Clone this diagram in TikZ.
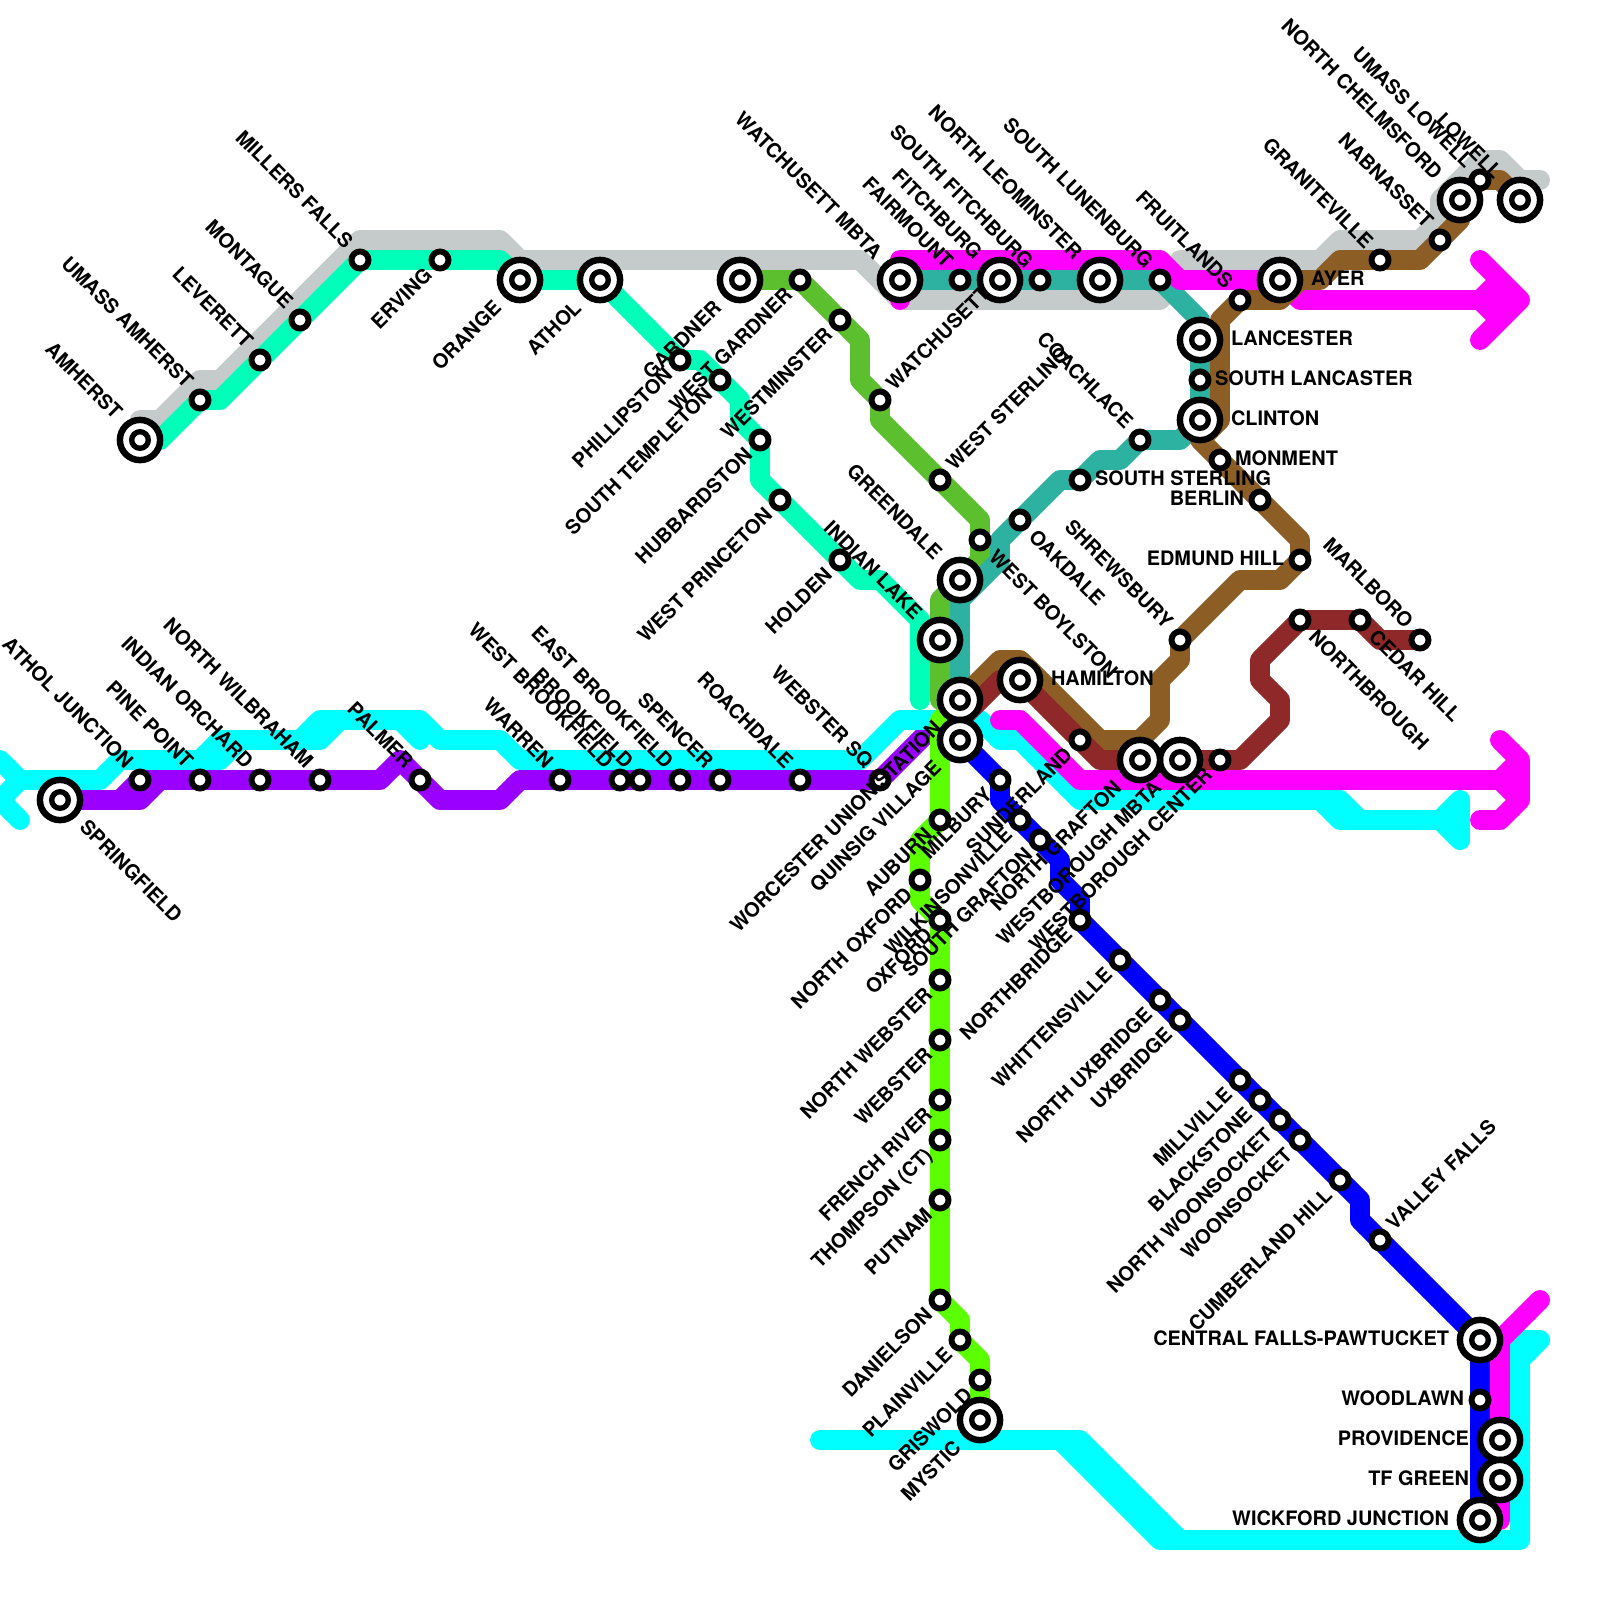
\documentclass[tikz,border=0pt]{standalone}
\usepackage{fontspec}
\setmainfont{TeX Gyre Heros}
\usetikzlibrary{backgrounds}
\definecolor{greyline}{HTML}{C5CBCA}
\definecolor{cyanline}{HTML}{00FFFF}
\definecolor{mintline}{HTML}{00FFB9}
\definecolor{oliveline}{HTML}{5CBF2E}
\definecolor{tealline}{HTML}{2DB1A0}
\definecolor{purpleline}{HTML}{9900FF}
\definecolor{magentaline}{HTML}{FF00FF}
\definecolor{brownline}{HTML}{8C5E25}
\definecolor{redline}{HTML}{8F2828}
\definecolor{blueline}{HTML}{0000FF}
\definecolor{limeline}{HTML}{5CFF00}
\begin{document}
\begin{tikzpicture}[x=5mm, y=-5mm,
  font=\fontsize{14.17}{14.17}\selectfont\bfseries,
  route/.style={line width=14.17pt, line join=round, line cap=round},
  stn/.style={circle, draw=black, fill=white, line width=4.2pt,
              inner sep=0pt, minimum size=12.1pt},
  bigstn/.style={circle, draw=black, fill=white, line width=4.6pt,
              inner sep=0pt, minimum size=28.6pt,
              path picture={\draw[line width=3.8pt] (path picture bounding box.center) circle (5.9pt);}},
  lbl/.style={inner sep=0pt, outer sep=0pt},
  lnw/.style={lbl, shift={(-0.64,-0.66)}, rotate=-45, anchor=mid east},
  lnwb/.style={lbl, shift={(-1.19,-1.11)}, rotate=-45, anchor=mid east},
  lsw/.style={lbl, shift={(-0.46,0.69)}, rotate=45, anchor=mid east},
  lswb/.style={lbl, shift={(-1.01,1.34)}, rotate=45, anchor=mid east},
  lse/.style={lbl, shift={(0.51,0.79)}, rotate=-45, anchor=mid west},
  lseb/.style={lbl, shift={(1.06,1.29)}, rotate=-45, anchor=mid west},
  lne/.style={lbl, shift={(0.6,-0.56)}, rotate=45, anchor=mid west},
  le/.style={lbl, shift={(0.75,0.1)}, anchor=mid west},
  leb/.style={lbl, shift={(1.55,0.1)}, anchor=mid west},
  lw/.style={lbl, shift={(-0.8,0.1)}, anchor=mid east},
  lwb/.style={lbl, shift={(-1.55,0.1)}, anchor=mid east}
]
\useasboundingbox (0,0) rectangle (80,80);
\node[bigstn] (amherst) at (7,22) {};
\node[stn] (umassamherst) at (10,20) {};
\node[stn] (leverett) at (13,18) {};
\node[stn] (montague) at (15,16) {};
\node[stn] (millersfalls) at (18,13) {};
\node[stn] (erving) at (22,13) {};
\node[bigstn] (orange) at (26,14) {};
\node[bigstn] (athol) at (30,14) {};
\node[bigstn] (gardner) at (37,14) {};
\node[stn] (westgardner) at (40,14) {};
\node[stn] (westminster) at (42,16) {};
\node[stn] (watchusett) at (44,20) {};
\node[stn] (weststerling) at (47,24) {};
\node[stn] (westboylston) at (49,27) {};
\node[bigstn] (greendale) at (48,29) {};
\node[stn] (oakdale) at (51,26) {};
\node[stn] (southsterling) at (54,24) {};
\node[stn] (coachlace) at (57,22) {};
\node[bigstn] (clinton) at (60,21) {};
\node[stn] (southlancaster) at (60,19) {};
\node[bigstn] (lancester) at (60,17) {};
\node[stn] (southlunenburg) at (58,14) {};
\node[bigstn] (northleominster) at (55,14) {};
\node[stn] (southfitchburg) at (52,14) {};
\node[bigstn] (fitchburg) at (50,14) {};
\node[stn] (fairmount) at (48,14) {};
\node[bigstn] (watchusettmbta) at (45,14) {};
\node[stn] (fruitlands) at (62,15) {};
\node[bigstn] (ayer) at (64,14) {};
\node[stn] (graniteville) at (69,13) {};
\node[stn] (nabnasset) at (72,12) {};
\node[bigstn] (northchelmsford) at (73,10) {};
\node[stn] (umasslowell) at (74,9) {};
\node[bigstn] (lowell) at (76,10) {};
\node[stn] (monment) at (61,23) {};
\node[stn] (berlin) at (63,25) {};
\node[stn] (edmundhill) at (65,28) {};
\node[stn] (shrewsbury) at (59,32) {};
\node[stn] (marlboro) at (71,32) {};
\node[stn] (cedarhill) at (68,31) {};
\node[stn] (northbrough) at (65,31) {};
\node[stn] (westboroughcenter) at (61,38) {};
\node[bigstn] (westboroughmbta) at (59,38) {};
\node[bigstn] (northgrafton) at (57,38) {};
\node[stn] (sunderland) at (54,37) {};
\node[bigstn] (hamilton) at (51,34) {};
\node[bigstn] (indianlake) at (47,32) {};
\node[stn] (holden) at (42,28) {};
\node[stn] (westprinceton) at (39,25) {};
\node[stn] (hubbardston) at (38,22) {};
\node[stn] (southtempleton) at (36,19) {};
\node[stn] (phillipston) at (34,18) {};
\node[bigstn] (worcester) at (48,35) {};
\node[bigstn] (quinsig) at (48,37) {};
\node[stn] (webstersq) at (44,39) {};
\node[stn] (roachdale) at (40,39) {};
\node[stn] (spencer) at (36,39) {};
\node[stn] (eastbrookfield) at (34,39) {};
\node[stn] (brookfield) at (32,39) {};
\node[stn] (westbrookfield) at (31,39) {};
\node[stn] (warren) at (28,39) {};
\node[stn] (palmer) at (21,39) {};
\node[stn] (northwilbraham) at (16,39) {};
\node[stn] (indianorchard) at (13,39) {};
\node[stn] (pinepoint) at (10,39) {};
\node[stn] (atholjunction) at (7,39) {};
\node[bigstn] (springfield) at (3,40) {};
\node[stn] (milbury) at (50,39) {};
\node[stn] (wilkinsonville) at (51,41) {};
\node[stn] (southgrafton) at (52,42) {};
\node[stn] (northbridge) at (54,46) {};
\node[stn] (whittensville) at (56,48) {};
\node[stn] (northuxbridge) at (58,50) {};
\node[stn] (uxbridge) at (59,51) {};
\node[stn] (millville) at (62,54) {};
\node[stn] (blackstone) at (63,55) {};
\node[stn] (northwoonsocket) at (64,56) {};
\node[stn] (woonsocket) at (65,57) {};
\node[stn] (cumberlandhill) at (67,59) {};
\node[stn] (valleyfalls) at (69,62) {};
\node[bigstn] (centralfalls) at (74,67) {};
\node[stn] (woodlawn) at (74,70) {};
\node[bigstn] (providence) at (75,72) {};
\node[bigstn] (tfgreen) at (75,74) {};
\node[bigstn] (wickford) at (74,76) {};
\node[stn] (auburn) at (47,41) {};
\node[stn] (northoxford) at (46,44) {};
\node[stn] (oxford) at (47,46) {};
\node[stn] (northwebster) at (47,49) {};
\node[stn] (webster) at (47,52) {};
\node[stn] (frenchriver) at (47,55) {};
\node[stn] (thompson) at (47,57) {};
\node[stn] (putnam) at (47,60) {};
\node[stn] (danielson) at (47,65) {};
\node[stn] (plainville) at (48,67) {};
\node[stn] (griswold) at (49,69) {};
\node[bigstn] (mystic) at (49,71) {};
\begin{scope}[on background layer]
\draw[route, greyline] (7,21) -- (8,21) -- (10,19) -- (11,19) -- (18,12) -- (25,12) -- (26,13) -- (43,13) -- (45,15) -- (58,15) -- (59,14) -- (59,13) -- (66,13) -- (67,12) -- (71,12) -- (72,11) -- (72,10) -- (74,8) -- (75,8) -- (76,9) -- (77,9);
\draw[route, purpleline] (springfield.center) -- (6,40) -- (atholjunction.center) -- (pinepoint.center) -- (indianorchard.center) -- (northwilbraham.center) -- (19,39) -- (20,38) -- (palmer.center) -- (22,40) -- (25,40) -- (26,39) -- (warren.center) -- (westbrookfield.center) -- (brookfield.center) -- (eastbrookfield.center) -- (spencer.center) -- (roachdale.center) -- (webstersq.center) -- (worcester.center) (6,40) -- (7,40) -- (8,39);
\draw[route, cyanline] (1,41) -- (0,40) -- (1,39) -- (0,38) (1,39) -- (5,39) -- (6,38) -- (11,38) -- (12,37) (10,38) -- (11,37) -- (16,37) -- (17,36) (15,37) -- (16,36) -- (21,36) -- (22,37) -- (25,37) -- (26,38) -- (43,38) -- (45,36) -- (49,36) -- (50,37) -- (51,37) -- (54,40) -- (67,40) -- (68,41) -- (72,41) -- (73,40) -- (73,42) -- (72,41) (20,36) -- (21,37) (66,40) -- (67,41) -- (68,41);
\draw[route, cyanline] (41,72) -- (54,72) -- (59,77) -- (76,77) -- (76,67) -- (77,67) -- (76,68) (53,72) -- (58,77) -- (59,77);
\draw[route, mintline] (amherst.center) -- (8,22) -- (umassamherst.center) -- (11,20) -- (leverett.center) -- (montague.center) -- (millersfalls.center) -- (erving.center) -- (25,13) -- (orange.center) -- (athol.center) -- (phillipston.center) -- (35,18) -- (southtempleton.center) -- (37,20) -- (37,21) -- (hubbardston.center) -- (38,24) -- (westprinceton.center) -- (holden.center) -- (43,29) -- (44,29) -- (46,31) -- (46,35);
\draw[route, oliveline] (gardner.center) -- (westgardner.center) -- (westminster.center) -- (43,17) -- (43,19) -- (watchusett.center) -- (44,21) -- (weststerling.center) -- (49,26) -- (westboylston.center) -- (49,28) -- (greendale.center) -- (47,30) -- (indianlake.center) -- (47,35);
\draw[route, tealline] (worcester.center) -- (48,30) -- (50,28) -- (50,27) -- (oakdale.center) -- (53,24) -- (southsterling.center) -- (55,23) -- (56,23) -- (coachlace.center) -- (59,22) -- (clinton.center) -- (southlancaster.center) -- (lancester.center) -- (60,16) -- (southlunenburg.center) -- (northleominster.center) -- (southfitchburg.center) -- (fitchburg.center) -- (fairmount.center) -- (watchusettmbta.center);
\draw[route, magentaline] (45,15) -- (45,13) -- (58,13) -- (59,14) -- (ayer.center) -- (65,15) -- (76,15) (74,13) -- (76,15) -- (74,17) -- (75,16) -- (74,15) -- (75,14);
\draw[route, magentaline] (50,36) -- (51,36) -- (54,39) -- (75,39) (75,37) -- (76,38) -- (76,40) -- (75,41) -- (74,41) (76,38) -- (75,39) -- (76,40);
\draw[route, magentaline] (75,76) -- (tfgreen.center) -- (providence.center) -- (75,67) -- (77,65);
\draw[route, brownline] (lowell.center) -- (75,9) -- (umasslowell.center) -- (northchelmsford.center) -- (73,11) -- (nabnasset.center) -- (71,13) -- (graniteville.center) -- (67,13) -- (66,14) -- (65,14) -- (64,15) -- (fruitlands.center) -- (61,16) -- (61,21) -- (60,22) -- (monment.center) -- (berlin.center) -- (65,27) -- (edmundhill.center) -- (64,29) -- (62,29) -- (shrewsbury.center) -- (59,33) -- (58,34) -- (58,36) -- (57,37) -- (55,37) -- (51,33) -- (50,33) -- (worcester.center);
\draw[route, redline] (48,36) -- (50,34) -- (hamilton.center) -- (sunderland.center) -- (55,38) -- (northgrafton.center) -- (westboroughmbta.center) -- (westboroughcenter.center) -- (62,38) -- (64,36) -- (64,35) -- (63,34) -- (63,33) -- (northbrough.center) -- (cedarhill.center) -- (69,32) -- (marlboro.center);
\draw[route, blueline] (quinsig.center) -- (milbury.center) -- (50,40) -- (wilkinsonville.center) -- (southgrafton.center) -- (53,43) -- (53,44) -- (54,45) -- (northbridge.center) -- (whittensville.center) -- (northuxbridge.center) -- (uxbridge.center) -- (millville.center) -- (blackstone.center) -- (northwoonsocket.center) -- (woonsocket.center) -- (cumberlandhill.center) -- (68,60) -- (68,61) -- (valleyfalls.center) -- (centralfalls.center) -- (woodlawn.center) -- (wickford.center);
\draw[route, limeline] (worcester.center) -- (47,36) -- (auburn.center) -- (46,42) -- (northoxford.center) -- (46,45) -- (oxford.center) -- (northwebster.center) -- (webster.center) -- (frenchriver.center) -- (thompson.center) -- (putnam.center) -- (danielson.center) -- (48,66) -- (plainville.center) -- (49,68) -- (griswold.center) -- (mystic.center);
\end{scope}
\node[lnwb] (tamherst) at (amherst) {AMHERST};
\node[lnw] (tumassamherst) at (umassamherst) {UMASS AMHERST};
\node[lnw] (tleverett) at (leverett) {LEVERETT};
\node[lnw] (tmontague) at (montague) {MONTAGUE};
\node[lnw] (tmillersfalls) at (millersfalls) {MILLERS FALLS};
\node[lnw] (tatholjunction) at (atholjunction) {ATHOL JUNCTION};
\node[lnw] (tpinepoint) at (pinepoint) {PINE POINT};
\node[lnw] (tindianorchard) at (indianorchard) {INDIAN ORCHARD};
\node[lnw] (tnorthwilbraham) at (northwilbraham) {NORTH WILBRAHAM};
\node[lnw] (tpalmer) at (palmer) {PALMER};
\node[lnw] (twarren) at (warren) {WARREN};
\node[lnw] (twestbrookfield) at (westbrookfield) {WEST BROOKFIELD};
\node[lnw] (tbrookfield) at (brookfield) {BROOKFIELD};
\node[lnw] (teastbrookfield) at (eastbrookfield) {EAST BROOKFIELD};
\node[lnw] (tspencer) at (spencer) {SPENCER};
\node[lnw] (troachdale) at (roachdale) {ROACHDALE};
\node[lnw] (twebstersq) at (webstersq) {WEBSTER SQ};
\node[lnwb] (tindianlake) at (indianlake) {INDIAN LAKE};
\node[lnwb] (tgreendale) at (greendale) {GREENDALE};
\node[lnwb] (twatchusettmbta) at (watchusettmbta) {WATCHUSETT MBTA};
\node[lnw] (tfairmount) at (fairmount) {FAIRMOUNT};
\node[lnwb] (tfitchburg) at (fitchburg) {FITCHBURG};
\node[lnw] (tsouthfitchburg) at (southfitchburg) {SOUTH FITCHBURG};
\node[lnwb] (tnorthleominster) at (northleominster) {NORTH LEOMINSTER};
\node[lnw] (tsouthlunenburg) at (southlunenburg) {SOUTH LUNENBURG};
\node[lnw] (tfruitlands) at (fruitlands) {FRUITLANDS};
\node[lnw] (tcoachlace) at (coachlace) {COACHLACE};
\node[lnw] (tshrewsbury) at (shrewsbury) {SHREWSBURY};
\node[lnw] (tgraniteville) at (graniteville) {GRANITEVILLE};
\node[lnw] (tnabnasset) at (nabnasset) {NABNASSET};
\node[lnwb] (tnorthchelmsford) at (northchelmsford) {NORTH CHELMSFORD};
\node[lnw] (tumasslowell) at (umasslowell) {UMASS LOWELL};
\node[lnwb] (tlowell) at (lowell) {LOWELL};
\node[lnw] (tmarlboro) at (marlboro) {MARLBORO};
\node[lsw] (terving) at (erving) {ERVING};
\node[lswb] (torange) at (orange) {ORANGE};
\node[lswb] (tathol) at (athol) {ATHOL};
\node[lswb] (tgardner) at (gardner) {GARDNER};
\node[lsw] (twestgardner) at (westgardner) {WEST GARDNER};
\node[lsw] (twestminster) at (westminster) {WESTMINSTER};
\node[lsw] (tphillipston) at (phillipston) {PHILLIPSTON};
\node[lsw] (tsouthtempleton) at (southtempleton) {SOUTH TEMPLETON};
\node[lsw] (thubbardston) at (hubbardston) {HUBBARDSTON};
\node[lsw] (twestprinceton) at (westprinceton) {WEST PRINCETON};
\node[lsw] (tholden) at (holden) {HOLDEN};
\node[lswb] (tworcester) at (worcester) {WORCESTER UNION STATION};
\node[lswb] (tquinsig) at (quinsig) {QUINSIG VILLAGE};
\node[lsw] (tauburn) at (auburn) {AUBURN};
\node[lsw] (tmilbury) at (milbury) {MILBURY};
\node[lsw] (tsunderland) at (sunderland) {SUNDERLAND};
\node[lswb] (tnorthgrafton) at (northgrafton) {NORTH GRAFTON};
\node[lswb] (twestboroughmbta) at (westboroughmbta) {WESTBOROUGH MBTA};
\node[lsw] (twestboroughcenter) at (westboroughcenter) {WESTBOROUGH CENTER};
\node[lsw] (tnorthoxford) at (northoxford) {NORTH OXFORD};
\node[lsw] (twilkinsonville) at (wilkinsonville) {WILKINSONVILLE};
\node[lsw] (tsouthgrafton) at (southgrafton) {SOUTH GRAFTON};
\node[lsw] (toxford) at (oxford) {OXFORD};
\node[lsw] (tnorthwebster) at (northwebster) {NORTH WEBSTER};
\node[lsw] (twebster) at (webster) {WEBSTER};
\node[lsw] (tfrenchriver) at (frenchriver) {FRENCH RIVER};
\node[lsw] (tthompson) at (thompson) {THOMPSON (CT)};
\node[lsw] (tputnam) at (putnam) {PUTNAM};
\node[lsw] (tdanielson) at (danielson) {DANIELSON};
\node[lsw] (tplainville) at (plainville) {PLAINVILLE};
\node[lsw] (tgriswold) at (griswold) {GRISWOLD};
\node[lswb] (tmystic) at (mystic) {MYSTIC};
\node[lsw] (tnorthbridge) at (northbridge) {NORTHBRIDGE};
\node[lsw] (twhittensville) at (whittensville) {WHITTENSVILLE};
\node[lsw] (tnorthuxbridge) at (northuxbridge) {NORTH UXBRIDGE};
\node[lsw] (tuxbridge) at (uxbridge) {UXBRIDGE};
\node[lsw] (tmillville) at (millville) {MILLVILLE};
\node[lsw] (tblackstone) at (blackstone) {BLACKSTONE};
\node[lsw] (tnorthwoonsocket) at (northwoonsocket) {NORTH WOONSOCKET};
\node[lsw] (twoonsocket) at (woonsocket) {WOONSOCKET};
\node[lsw] (tcumberlandhill) at (cumberlandhill) {CUMBERLAND HILL};
\node[lseb] (tspringfield) at (springfield) {SPRINGFIELD};
\node[lse] (twestboylston) at (westboylston) {WEST BOYLSTON};
\node[lse] (toakdale) at (oakdale) {OAKDALE};
\node[lse] (tnorthbrough) at (northbrough) {NORTHBROUGH};
\node[lse] (tcedarhill) at (cedarhill) {CEDAR HILL};
\node[lne] (twatchusett) at (watchusett) {WATCHUSETT};
\node[lne] (tweststerling) at (weststerling) {WEST STERLING};
\node[lne] (tvalleyfalls) at (valleyfalls) {VALLEY FALLS};
\node[leb] (tayer) at (ayer) {AYER};
\node[leb] (tlancester) at (lancester) {LANCESTER};
\node[le] (tsouthlancaster) at (southlancaster) {SOUTH LANCASTER};
\node[leb] (tclinton) at (clinton) {CLINTON};
\node[le] (tmonment) at (monment) {MONMENT};
\node[le] (tsouthsterling) at (southsterling) {SOUTH STERLING};
\node[leb] (thamilton) at (hamilton) {HAMILTON};
\node[lw] (tberlin) at (berlin) {BERLIN};
\node[lw] (tedmundhill) at (edmundhill) {EDMUND HILL};
\node[lwb] (tcentralfalls) at (centralfalls) {CENTRAL FALLS-PAWTUCKET};
\node[lw] (twoodlawn) at (woodlawn) {WOODLAWN};
\node[lwb] (tprovidence) at (providence) {PROVIDENCE};
\node[lwb] (ttfgreen) at (tfgreen) {TF GREEN};
\node[lwb] (twickford) at (wickford) {WICKFORD JUNCTION};
\end{tikzpicture}
\end{document}
